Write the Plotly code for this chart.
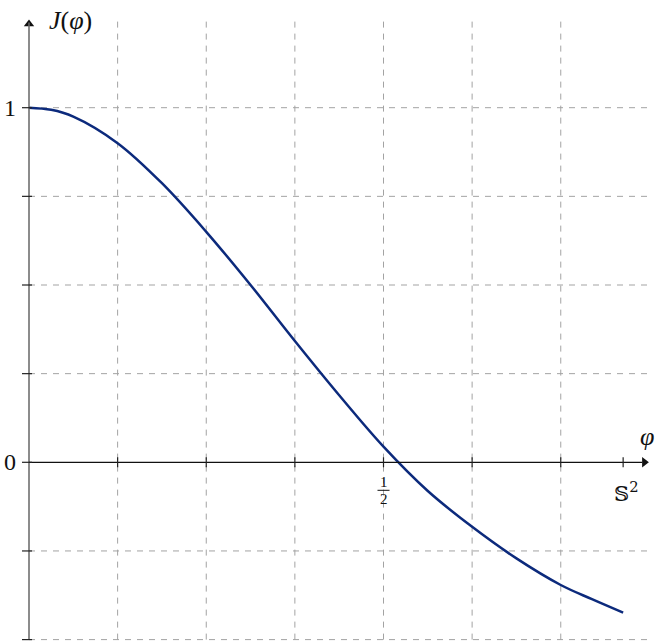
import plotly.graph_objects as go

# Data
phi = [0.0, 0.03125, 0.0625, 0.125, 0.1875, 0.25, 0.3125, 0.375, 0.4375, 0.5, 0.5625, 0.625, 0.6875, 0.75, 0.794, 0.838]
J = [1.0, 0.994, 0.975, 0.900, 0.787, 0.650, 0.500, 0.342, 0.189, 0.044, -0.081, -0.182, -0.271, -0.346, -0.386, -0.424]

x_grid = [0.125, 0.25, 0.375, 0.5, 0.625, 0.75]
y_grid = [-0.5, -0.25, 0.25, 0.5, 0.75, 1.0]
y_ticks = [-0.5, -0.25, 0.0, 0.25, 0.5, 0.75, 1.0]
x_ticks = [0.125, 0.25, 0.375, 0.5, 0.625, 0.75, 0.838]

PX_X = 709.0   # pixels per unit x
PX_Y = 354.6   # pixels per unit y
OFF = 0.0      # page body margin (removed by post_script)
X0_PX, Y0_PX = 29.0, 462.3  # page position of origin
X_MIN = (OFF - X0_PX) / PX_X
X_MAX = (OFF + 663 - X0_PX) / PX_X
Y_MAX = (Y0_PX - OFF) / PX_Y
Y_MIN = (Y0_PX - OFF - 644) / PX_Y
GRID_X_END = 0.875
GRID_Y_TOP = 1.25

SERIF = "Liberation Serif, DejaVu Serif, serif"
fig = go.Figure()

shapes = []
grid_style = dict(color="#a3a3a3", width=1, dash="6px,6px")
for gx in x_grid:
    shapes.append(dict(type="line", x0=gx, x1=gx, y0=-0.5, y1=GRID_Y_TOP, line=grid_style, layer="below"))
for gy in y_grid:
    shapes.append(dict(type="line", x0=0, x1=GRID_X_END, y0=gy, y1=gy, line=grid_style, layer="below"))

# axes
shapes.append(dict(type="line", x0=0, x1=0, y0=-0.5, y1=GRID_Y_TOP - 0.01, line=dict(color="#666666", width=1.5)))
shapes.append(dict(type="line", x0=0, x1=GRID_X_END - 0.01, y0=0, y1=0, line=dict(color="#111111", width=1.3)))

# ticks
for ty in y_ticks:
    shapes.append(dict(type="line", x0=-7 / PX_X, x1=3 / PX_X, y0=ty, y1=ty, line=dict(color="#222222", width=1.2)))
for tx in x_ticks:
    shapes.append(dict(type="line", x0=tx, x1=tx, y0=-5 / PX_Y, y1=5 / PX_Y, line=dict(color="#222222", width=1.2)))

# fraction bar for 1/2
shapes.append(dict(type="line", x0=0.5 - 6 / PX_X, x1=0.5 + 6 / PX_X, y0=-28 / PX_Y, y1=-28 / PX_Y,
                   line=dict(color="#111111", width=1)))

# arrow heads
fig.add_trace(go.Scatter(x=[0], y=[GRID_Y_TOP - 5 / PX_Y], mode="markers",
                         marker=dict(symbol="triangle-up", size=9, color="#111111"),
                         hoverinfo="skip", showlegend=False))
fig.add_trace(go.Scatter(x=[GRID_X_END - 5 / PX_X], y=[0], mode="markers",
                         marker=dict(symbol="triangle-right", size=9, color="#111111"),
                         hoverinfo="skip", showlegend=False))

# curve
fig.add_trace(go.Scatter(x=phi, y=J, mode="lines",
                         line=dict(color="#0c2a7c", width=2.5, shape="spline", smoothing=1.0),
                         hoverinfo="skip", showlegend=False))

annotations = [
    dict(x=(10 - X0_PX) / PX_X, y=1.0, text="1", showarrow=False, font=dict(family=SERIF, size=24, color="#111111")),
    dict(x=(10 - X0_PX) / PX_X, y=0.0, text="0", showarrow=False, font=dict(family=SERIF, size=24, color="#111111")),
    dict(x=(70 - X0_PX) / PX_X, y=(Y0_PX - 20) / PX_Y, text="<i>J</i>(<i>φ</i>)", showarrow=False, xanchor="center",
         font=dict(family=SERIF, size=26, color="#111111")),
    dict(x=(647 - X0_PX) / PX_X, y=(Y0_PX - 436) / PX_Y, text="<i>φ</i>", showarrow=False,
         font=dict(family=SERIF, size=26, color="#111111")),
    dict(x=0.5, y=-20 / PX_Y, text="1", showarrow=False, font=dict(family=SERIF, size=15, color="#111111")),
    dict(x=0.5, y=-37 / PX_Y, text="2", showarrow=False, font=dict(family=SERIF, size=15, color="#111111")),
    dict(x=(626 - X0_PX) / PX_X, y=-30 / PX_Y, text="𝕊<sup>2</sup>", showarrow=False,
         font=dict(family="DejaVu Serif, DejaVu Sans, serif", size=21, color="#111111")),
]

fig.update_layout(
    width=663, height=644,
    margin=dict(l=0, r=0, t=0, b=0),
    paper_bgcolor="white", plot_bgcolor="white",
    xaxis=dict(range=[X_MIN, X_MAX], visible=False, fixedrange=True),
    yaxis=dict(range=[Y_MIN, Y_MAX], visible=False, fixedrange=True),
    shapes=shapes, annotations=annotations,
)

fig.write_html("out.html", config={"displayModeBar": False},
               post_script="document.body.style.margin='0';")
